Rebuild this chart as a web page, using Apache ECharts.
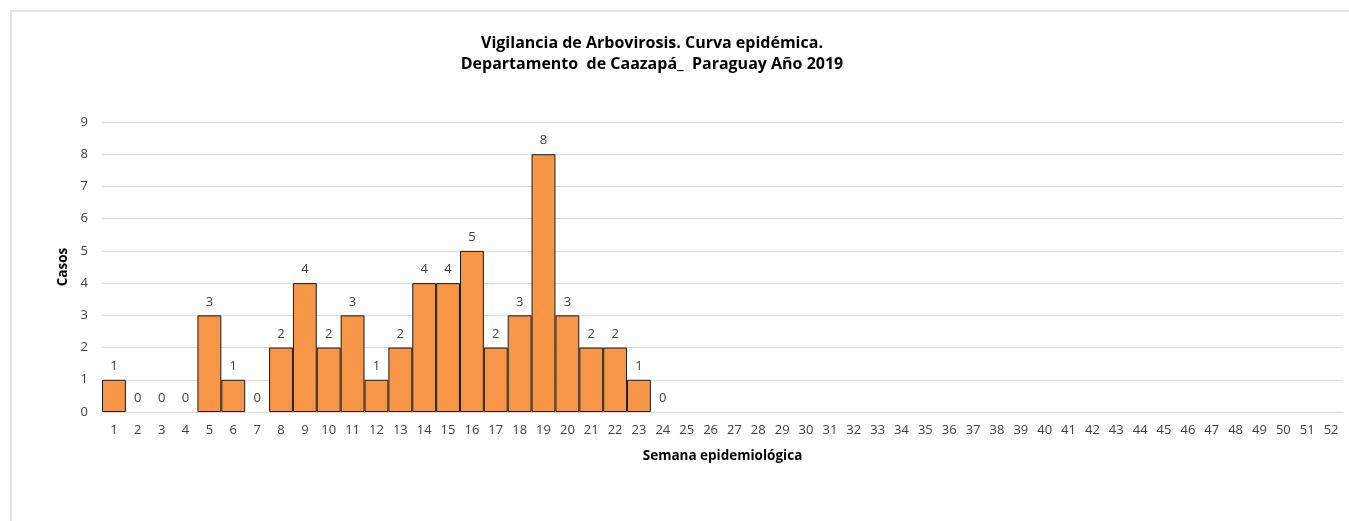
<!DOCTYPE html>
<html>
<head>
<meta charset="utf-8">
<script src="https://cdn.jsdelivr.net/npm/echarts@6/dist/echarts.min.js"></script>
<style>
html,body{margin:0;padding:0;background:#fff;overflow:hidden;}
#frame{position:absolute;left:10px;top:10px;width:1400px;height:600px;border-left:2px solid #e4e4e4;border-top:2px solid #e4e4e4;box-sizing:border-box;}
#chart{position:absolute;left:0;top:0;width:1349px;height:521px;}
</style>
</head>
<body>
<div id="frame"></div>
<div id="chart"></div>
<script>
const titleLines = ["Vigilancia de Arbovirosis. Curva epidémica.", "Departamento  de Caazapá_  Paraguay Año 2019"];
const weeks = [];
for (let i = 1; i <= 52; i++) weeks.push(String(i));
const casos = [1,0,0,0,3,1,0,2,4,2,3,1,2,4,4,5,2,3,8,3,2,2,1,0,
  null,null,null,null,null,null,null,null,null,null,null,null,null,null,null,null,
  null,null,null,null,null,null,null,null,null,null,null,null];
const yTicks = [0,1,2,3,4,5,6,7,8,9];

const chart = echarts.init(document.getElementById('chart'), null, {renderer:'canvas'});
const font = "'Open Sans', 'Noto Sans', sans-serif";
const barData = casos.map(v => (v === 0 ? {value:v, itemStyle:{borderWidth:0}} : v));
chart.setOption({
  animation:false,
  backgroundColor:'transparent',
  title:{
    text: titleLines.join('\n'),
    left: 647, top: 28, textAlign:'center',
    textStyle:{fontFamily:font, fontSize:16, fontWeight:'bold', color:'#000', lineHeight:21}
  },
  grid:{left:102, right:6, top:122, bottom:109},
  xAxis:{
    type:'category', data:weeks,
    name:'Semana epidemiológica', nameLocation:'middle', nameGap:37,
    nameTextStyle:{fontFamily:font, fontSize:13.5, fontWeight:'bold', color:'#000'},
    axisLine:{lineStyle:{color:'#d9d9d9', width:1}},
    axisTick:{show:false},
    axisLabel:{fontFamily:font, fontSize:13, color:'#404040', margin:12, interval:0}
  },
  yAxis:{
    type:'value', min:yTicks[0], max:yTicks[yTicks.length-1], interval:1,
    name:'Casos', nameLocation:'middle', nameGap:24,
    nameTextStyle:{fontFamily:font, fontSize:13.5, fontWeight:'bold', color:'#000'},
    axisLine:{show:false}, axisTick:{show:false},
    axisLabel:{fontFamily:font, fontSize:13, color:'#404040', margin:14},
    splitLine:{lineStyle:{color:'#d9d9d9', width:1}}
  },
  series:[{
    type:'bar', data:barData, barCategoryGap:'0%',
    itemStyle:{color:'#F79646', borderColor:'#1a1a1a', borderWidth:1},
    label:{show:true, position:'top', distance:7, fontFamily:font, fontSize:13, color:'#404040',
      formatter:p => p.value == null ? '' : String(p.value)}
  }]
});
</script>
</body>
</html>
